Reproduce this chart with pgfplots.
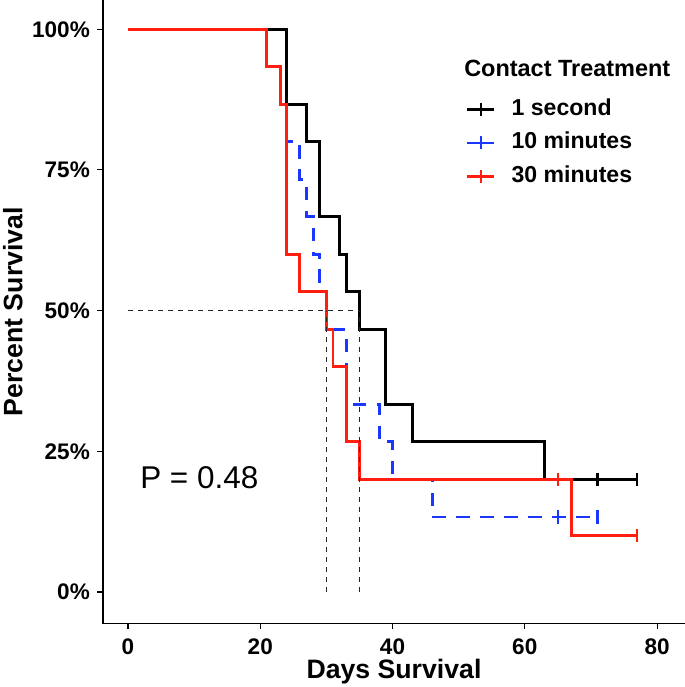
\documentclass[border=0pt]{standalone}
\usepackage{pgfplots}
\pgfplotsset{compat=1.18}
\usepackage{fontspec}
\setmainfont{Liberation Sans}
\definecolor{kmred}{RGB}{255,30,15}
\definecolor{kmblue}{RGB}{25,55,255}
\begin{document}
\begin{tikzpicture}
\useasboundingbox (-77.25pt,-47.625pt) rectangle (436.5pt,467.625pt);
\begin{axis}[
  at={(0pt,0pt)}, anchor=south west,
  scale only axis, width=436.5pt, height=467.625pt,
  xmin=-3.78, xmax=84.23, ymin=-0.056, ymax=1.052,
  axis lines=left, axis line style={-, line width=0.8pt},
  tick align=outside, major tick length=4.2pt,
  tick style={line width=0.8pt, black},
  xtick={0,20,40,60,80},
  ytick={0,0.25,0.5,0.75,1},
  yticklabels={0\%,25\%,50\%,75\%,100\%},
  /pgf/number format/assume math mode=true,
  tick label style={font=\fontsize{16.9}{20}\selectfont\bfseries},
  xticklabel style={inner sep=0pt, yshift=-6.75pt},
  yticklabel style={inner sep=0pt, xshift=-5.5pt},
  legend style={draw=none, fill=none,
    at={(axis description cs:0.6237,0.8424)}, anchor=north west,
    inner sep=0pt, outer sep=0pt, row sep=8pt, column sep=12pt,
    font=\fontsize{17.3}{20}\selectfont\bfseries,
    nodes={inner sep=0pt, text height=13pt, text depth=4pt}},
  legend cell align=left,
  legend image code/.code={
    \draw[#1, solid, line width=2pt] (0pt,0pt) -- (20.25pt,0pt);
    \draw[#1, solid, line width=1.6pt] (10.1pt,-4.9pt) -- (10.1pt,4.9pt);
  },
]
\addlegendimage{black}
\addlegendentry{1 second}
\addlegendimage{kmblue}
\addlegendentry{10 minutes}
\addlegendimage{kmred}
\addlegendentry{30 minutes}
% 10 minutes (drawn first, beneath the others)
\addplot[kmblue, line width=2.2pt, const plot, dash pattern=on 10pt off 8pt, forget plot] coordinates {
 (0,1) (24,0.8) (26,0.7333) (27,0.6667) (28,0.6) (29,0.5333) (30,0.4667)
 (33,0.3333) (38,0.2667) (40,0.2) (46,0.1333) (71,0.1333)};
\addplot[kmblue, only marks, mark=|, mark size=4.9pt, mark options={line width=1.6pt}, forget plot]
 coordinates {(65,0.1333) (71,0.1333)};
% 1 second
\addplot[black, line width=2.2pt, const plot, forget plot] coordinates {
 (0,1) (24,0.8667) (27,0.8) (29,0.6667) (32,0.6) (33,0.5333) (35,0.4667)
 (39,0.3333) (43,0.2667) (63,0.2) (77,0.2)};
\addplot[black, only marks, mark=|, mark size=4.9pt, mark options={line width=1.6pt}, forget plot]
 coordinates {(71,0.2) (77,0.2)};
% 30 minutes
\addplot[kmred, line width=2.2pt, const plot, forget plot] coordinates {
 (0,1) (21,0.9333) (23,0.8667) (24,0.6) (26,0.5333) (30,0.4667) (31,0.4)
 (33,0.2667) (35,0.2) (67,0.1) (77,0.1)};
\addplot[kmred, only marks, mark=|, mark size=4.9pt, mark options={line width=1.6pt}, forget plot]
 coordinates {(65,0.2) (77,0.1)};
% median lines
\addplot[black!85, line width=0.8pt, dash pattern=on 3.75pt off 3.75pt, forget plot]
 coordinates {(0,0.5) (35,0.5)};
\addplot[black!85, line width=0.8pt, dash pattern=on 3.75pt off 3.75pt, forget plot]
 coordinates {(30,0) (30,0.5)};
\addplot[black!85, line width=0.8pt, dash pattern=on 3.75pt off 3.75pt, forget plot]
 coordinates {(35,0) (35,0.5)};
\end{axis}
\node[anchor=base, font=\fontsize{20}{24}\selectfont\bfseries] at (218.25pt,-40.9pt) {Days Survival};
\node[anchor=base, rotate=90, font=\fontsize{20}{24}\selectfont\bfseries] at (-60.4pt,233.8pt) {Percent Survival};
\node[anchor=base west, inner sep=0pt, font=\fontsize{23.6}{28}\selectfont] at (27.75pt,101.6pt) {P = 0.48};
\node[anchor=base west, inner sep=0pt, font=\fontsize{17.6}{21}\selectfont\bfseries] at (270.75pt,410.1pt) {Contact Treatment};
\end{tikzpicture}
\end{document}
